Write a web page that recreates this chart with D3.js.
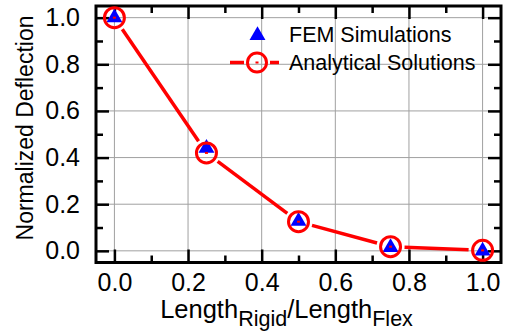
<!DOCTYPE html>
<html>
<head>
<meta charset="utf-8">
<script src="https://cdn.jsdelivr.net/npm/d3@7"></script>
<style>
  body { margin: 0; background: #fff; }
  svg { font-family: "Liberation Sans", Arial, sans-serif; }
</style>
</head>
<body>
<div id="chart"></div>
<script>
// data
const ratios = [0, 0.25, 0.5, 0.75, 1.0];
const femValues = [1.0, 0.44, 0.127, 0.015, 0.0];
const analyticalValues = [1.0, 0.42, 0.125, 0.018, 0.002];
const majorTicks = [0, 0.2, 0.4, 0.6, 0.8, 1.0];
const minorTicks = [0.1, 0.3, 0.5, 0.7, 0.9];
const legendLabels = ["FEM Simulations", "Analytical Solutions"];

const width = 509;
const height = 331;
const margin = { top: 6, right: 8, bottom: 68.5, left: 96 };
const innerW = width - margin.left - margin.right;
const innerH = height - margin.top - margin.bottom;

const svg = d3.select("#chart")
  .append("svg")
  .attr("width", width)
  .attr("height", height);

const g = svg.append("g")
  .attr("transform", "translate(" + margin.left + "," + margin.top + ")");

// scales
const x = d3.scaleLinear().domain([-0.05, 1.05]).range([0, innerW]);
const y = d3.scaleLinear().domain([-0.05, 1.05]).range([innerH, 0]);

// grid lines
g.append("g").selectAll("line")
  .data(majorTicks)
  .enter()
  .append("line")
  .attr("x1", d => x(d)).attr("x2", d => x(d))
  .attr("y1", 0).attr("y2", innerH)
  .attr("stroke", "#a0a0a0").attr("stroke-width", 1);

g.append("g").selectAll("line")
  .data(majorTicks)
  .enter()
  .append("line")
  .attr("x1", 0).attr("x2", innerW)
  .attr("y1", d => y(d)).attr("y2", d => y(d))
  .attr("stroke", "#a0a0a0").attr("stroke-width", 1);

const fmt = d3.format(".1f");

function styleAxis(sel, labels) {
  sel.select(".domain").remove();
  sel.selectAll(".tick line").attr("stroke", "#000").attr("stroke-width", 2.5);
  sel.selectAll("text")
    .attr("fill", "#000")
    .style("font-size", "25px")
    .style("font-family", "'Liberation Sans', Arial, sans-serif");
  if (!labels) sel.selectAll("text").remove();
}

// bottom axis (major + minor, ticks inward)
g.append("g")
  .attr("transform", "translate(0," + innerH + ")")
  .call(d3.axisBottom(x).tickValues(majorTicks).tickSize(-13).tickPadding(11).tickFormat(fmt))
  .call(s => styleAxis(s, true));
g.append("g")
  .attr("transform", "translate(0," + innerH + ")")
  .call(d3.axisBottom(x).tickValues(minorTicks).tickSize(-7))
  .call(s => styleAxis(s, false));

// top axis
g.append("g")
  .call(d3.axisTop(x).tickValues(majorTicks).tickSize(-13))
  .call(s => styleAxis(s, false));
g.append("g")
  .call(d3.axisTop(x).tickValues(minorTicks).tickSize(-7))
  .call(s => styleAxis(s, false));

// left axis
g.append("g")
  .call(d3.axisLeft(y).tickValues(majorTicks).tickSize(-13).tickPadding(16).tickFormat(fmt))
  .call(s => styleAxis(s, true));
g.append("g")
  .call(d3.axisLeft(y).tickValues(minorTicks).tickSize(-7))
  .call(s => styleAxis(s, false));

// right axis
g.append("g")
  .attr("transform", "translate(" + innerW + ",0)")
  .call(d3.axisRight(y).tickValues(majorTicks).tickSize(-13))
  .call(s => styleAxis(s, false));
g.append("g")
  .attr("transform", "translate(" + innerW + ",0)")
  .call(d3.axisRight(y).tickValues(minorTicks).tickSize(-7))
  .call(s => styleAxis(s, false));

// frame
g.append("rect")
  .attr("x", 0).attr("y", 0)
  .attr("width", innerW).attr("height", innerH)
  .attr("fill", "none")
  .attr("stroke", "#000")
  .attr("stroke-width", 3);

// analytical line, drawn as segments with gaps around the symbols
const gap = 14;
const pts = ratios.map((r, i) => [x(r), y(analyticalValues[i])]);
const segs = d3.pairs(pts).map(([a, b]) => {
  const dx = b[0] - a[0], dy = b[1] - a[1];
  const len = Math.sqrt(dx * dx + dy * dy);
  const ux = dx / len, uy = dy / len;
  return [a[0] + ux * gap, a[1] + uy * gap, b[0] - ux * gap, b[1] - uy * gap];
});
g.append("g").selectAll("line")
  .data(segs)
  .enter()
  .append("line")
  .attr("x1", d => d[0]).attr("y1", d => d[1])
  .attr("x2", d => d[2]).attr("y2", d => d[3])
  .attr("stroke", "#ff0000")
  .attr("stroke-width", 3.5);

// FEM triangles
const tri = d3.symbol().type(d3.symbolTriangle).size(110);
g.append("g").selectAll("path")
  .data(ratios)
  .enter()
  .append("path")
  .attr("d", tri)
  .attr("transform", (d, i) => "translate(" + x(d) + "," + y(femValues[i]) + ")")
  .attr("fill", "#0000ff");

// analytical circles with centre dot
g.append("g").selectAll("circle")
  .data(ratios)
  .enter()
  .append("circle")
  .attr("cx", d => x(d))
  .attr("cy", (d, i) => y(analyticalValues[i]))
  .attr("r", 10)
  .attr("fill", "none")
  .attr("stroke", "#ff0000")
  .attr("stroke-width", 3);
g.append("g").selectAll("rect")
  .data(ratios)
  .enter()
  .append("rect")
  .attr("x", d => x(d) - 1.5)
  .attr("y", (d, i) => y(analyticalValues[i]) - 1)
  .attr("width", 3).attr("height", 2)
  .attr("fill", "#ff0000");

// legend
const legend = svg.append("g");
legend.append("path")
  .attr("d", tri)
  .attr("transform", "translate(257.5,35.5)")
  .attr("fill", "#0000ff");
legend.append("line")
  .attr("x1", 230).attr("x2", 244).attr("y1", 62.5).attr("y2", 62.5)
  .attr("stroke", "#ff0000").attr("stroke-width", 3.5);
legend.append("line")
  .attr("x1", 270).attr("x2", 279).attr("y1", 62.5).attr("y2", 62.5)
  .attr("stroke", "#ff0000").attr("stroke-width", 3.5);
legend.append("circle")
  .attr("cx", 257).attr("cy", 62.5).attr("r", 9.5)
  .attr("fill", "none").attr("stroke", "#ff0000").attr("stroke-width", 3);
legend.append("rect")
  .attr("x", 255.5).attr("y", 61.5).attr("width", 3).attr("height", 2)
  .attr("fill", "#ff0000");
legend.selectAll("text")
  .data(legendLabels)
  .enter()
  .append("text")
  .attr("x", 289)
  .attr("y", (d, i) => 42 + i * 28)
  .style("font-size", "21.5px")
  .text(d => d);

// axis titles
const xt = svg.append("text")
  .attr("x", 286.5)
  .attr("y", 318)
  .attr("text-anchor", "middle")
  .style("font-size", "25.5px");
xt.append("tspan").text("Length");
xt.append("tspan").attr("dy", 8).style("font-size", "21.5px").text("Rigid");
xt.append("tspan").attr("dy", -8).text("/Length");
xt.append("tspan").attr("dy", 8).style("font-size", "21.5px").text("Flex");

svg.append("text")
  .attr("transform", "translate(33,128) rotate(-90)")
  .attr("text-anchor", "middle")
  .style("font-size", "23px")
  .text("Normalized Deflection");
</script>
</body>
</html>
